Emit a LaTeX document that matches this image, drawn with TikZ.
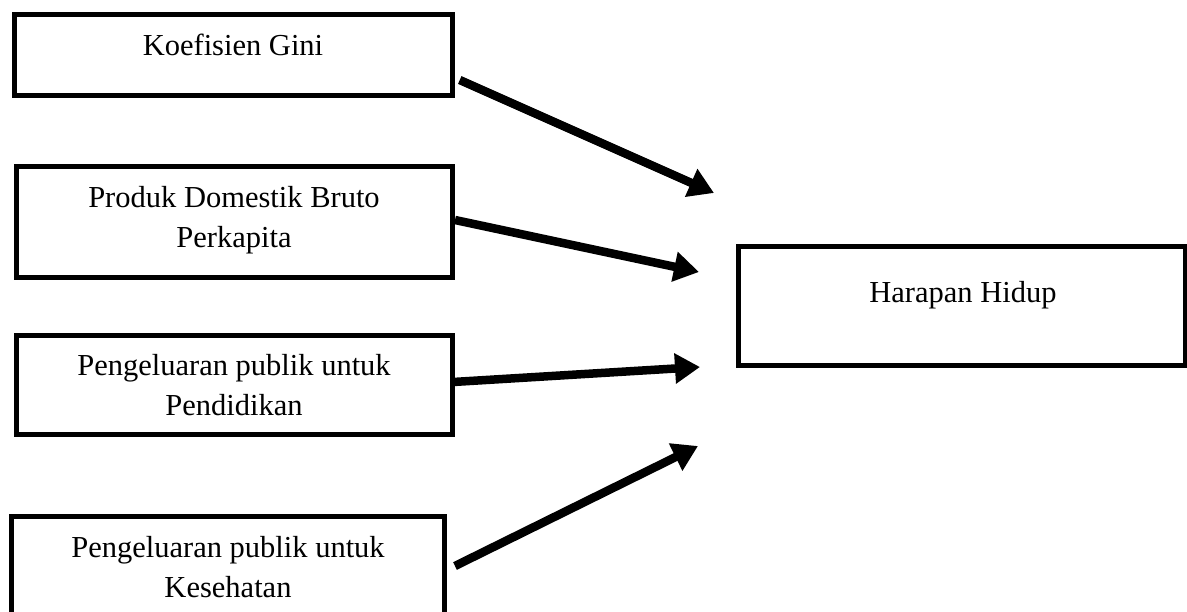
\documentclass[tikz,border=0pt]{standalone}
\usepackage{fontspec}
\setmainfont{Liberation Serif}
\usetikzlibrary{arrows.meta}

\tikzset{
  box/.style={draw=black, line width=5pt, fill=none, inner sep=0pt, outer sep=0pt},
  boxtext/.style={anchor=base, align=center, inner sep=0pt,
    font=\fontsize{30.5}{40}\selectfont},
  link/.style={line width=8.5pt, -{Triangle[length=25pt, width=29pt]}},
}

\begin{document}
\begin{tikzpicture}[x=1pt, y=-1pt]
  \useasboundingbox (0,0) rectangle (1187,611);

  % source boxes on the left
  \node[box, minimum width=438.5pt, minimum height=81.5pt] (gini) at (233.5,55) {};
  \node[box, minimum width=436pt, minimum height=111pt] (pdb) at (234,221.5) {};
  \node[box, minimum width=436pt, minimum height=99pt] (edu) at (234,384.5) {};
  \node[box, minimum width=433pt, minimum height=130pt] (hlt) at (227.5,581) {};
  % target box on the right
  \node[box, minimum width=447pt, minimum height=119pt] (life) at (961.5,305.5) {};

  % labels (base = baseline of the last line)
  \node[boxtext] (giniT) at (233,55) {Koefisien Gini};
  \node[boxtext] (pdbT) at (234,247) {Produk Domestik Bruto\\Perkapita};
  \node[boxtext] (eduT) at (234,415) {Pengeluaran publik untuk\\Pendidikan};
  \node[boxtext] (hltT) at (228,597) {Pengeluaran publik untuk\\Kesehatan};
  \node[boxtext] (lifeT) at (963,302) {Harapan Hidup};

  % arrow tips, left of the target box
  \coordinate (t1) at (714,193);
  \coordinate (t2) at (699,272);
  \coordinate (t3) at (700,367);
  \coordinate (t4) at (698,446);

  \draw[link] ([xshift=7pt, yshift=-25pt]gini.east) -- (t1);
  \draw[link] ([xshift=3pt, yshift=1.5pt]pdb.east) -- (t2);
  \draw[link] ([xshift=1pt, yshift=2.5pt]edu.east) -- (t3);
  \draw[link] ([xshift=11pt, yshift=15pt]hlt.east) -- (t4);
\end{tikzpicture}
\end{document}
